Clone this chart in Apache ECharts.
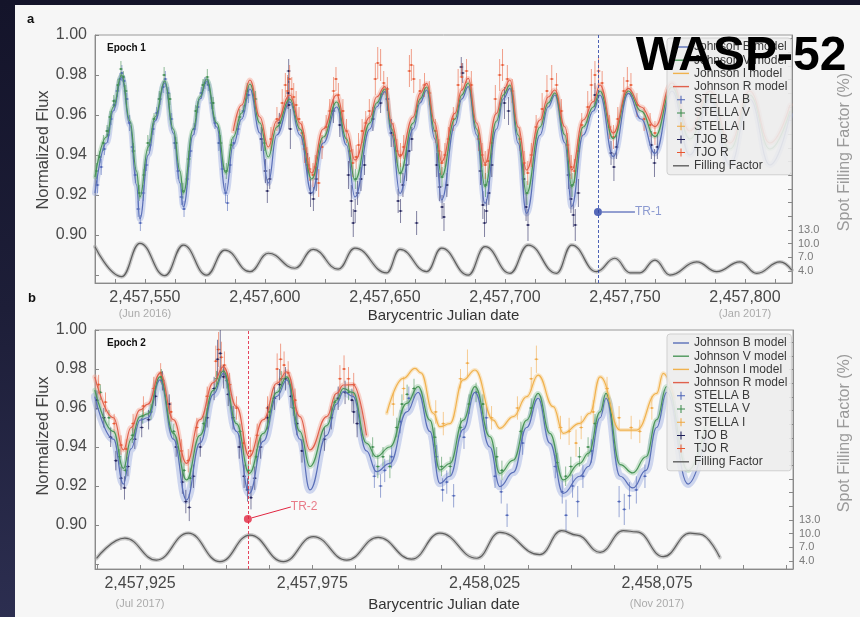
<!DOCTYPE html>
<html><head><meta charset="utf-8">
<script src="https://cdn.jsdelivr.net/npm/echarts@6/dist/echarts.min.js"></script>
<style>
html,body{margin:0;padding:0;width:860px;height:617px;overflow:hidden;background:linear-gradient(to bottom,#14142a 0%,#1d1e38 50%,#2c2e50 100%);}
#paper{position:absolute;left:15px;top:5px;width:845px;height:612px;background:#f6f6f6;}
#chart{position:absolute;left:0;top:0;width:860px;height:617px;}
</style></head>
<body><div id="paper"></div><div id="chart"></div>
<script>
// ---------------- DATA ----------------
// Panel a (Epoch 1) x-axis labels / ticks
const labelsA = [2457550, 2457600, 2457650, 2457700, 2457750, 2457800];
const noteTicksA = [2457550, 2457800];
const noteTextsA = ['(Jun 2016)', '(Jan 2017)'];
const minorTicksA = [2457537.5,2457550,2457562.5,2457575,2457587.5,2457600,2457612.5,2457625,2457637.5,2457650,2457662.5,2457675,2457687.5,2457700,2457712.5,2457725,2457737.5,2457750,2457762.5,2457775,2457787.5,2457800,2457812.5];
// Panel b (Epoch 2)
const labelsB = [2457925, 2457975, 2458025, 2458075];
const noteTicksB = [2457925, 2458075];
const noteTextsB = ['(Jul 2017)', '(Nov 2017)'];
const minorTicksB = [2457912.5,2457925,2457937.5,2457950,2457962.5,2457975,2457987.5,2458000,2458012.5,2458025,2458037.5,2458050,2458062.5,2458075,2458087.5,2458100,2458112.5];
const fluxLabels = [0.90, 0.92, 0.94, 0.96, 0.98, 1.00];
const fluxTicks = [0.88, 0.90, 0.92, 0.94, 0.96, 0.98, 1.00];
const ffLabels = [4, 7, 10, 13];
const ffTicks = [4,7,10,13,16,19,22,25,28,31,34,37,40,43,46,49,52,55];

// Panel a models
const daysA = [2457529.2,2457534.0,2457536.8,2457540.3,2457543.75,2457546.5,2457547.9,2457551.4,2457554.2,2457558.3,
2457561.8,2457564.6,2457566.0,2457570.1,2457572.9,2457575.7,2457579.9,2457583.75,2457586.8,2457590.3,
2457593.75,2457597.9,2457601.4,2457604.9,2457610.4,2457614.6,2457619.5,2457624.3,2457629.9,2457634.0,
2457637.5,2457643.75,2457646.5,2457650.0,2457652.8,2457656.25,2457661.8,2457664.6,2457667.4,2457670.8,
2457673.6,2457679.2,2457682.0,2457684.7,2457688.2,2457691.7,2457696.5,2457699.3,2457702.1,2457705.5,
2457709.0,2457714.6,2457718.0,2457720.8,2457725.0,2457727.8,2457732.6,2457736.8,2457739.6,2457745.1,
2457751.4,2457756.7,2457762.5,2457769.6,2457777.0,2457785.4,2457793.75,2457802.0,2457810.4,2457818.75];
const bModelA = [0.921,0.946,0.962,0.979,0.955,0.925,0.908,0.940,0.957,0.976,
0.951,0.926,0.914,0.950,0.968,0.977,0.954,0.921,0.945,0.958,
0.973,0.951,0.926,0.950,0.9665,0.950,0.921,0.946,0.964,0.945,
0.919,0.953,0.964,0.9717,0.950,0.9208,0.953,0.966,0.9725,0.948,
0.9175,0.955,0.968,0.9742,0.950,0.9158,0.953,0.968,0.9733,0.946,
0.9108,0.950,0.964,0.970,0.946,0.9142,0.950,0.962,0.970,0.9392,
0.9708,0.958,0.9408,0.972,0.940,0.968,0.935,0.968,0.935,0.960];
const vModelA = [0.929,0.949,0.964,0.980,0.957,0.932,0.919,0.944,0.959,0.977,
0.953,0.932,0.921,0.953,0.969,0.978,0.956,0.931,0.949,0.961,
0.9755,0.956,0.939,0.954,0.968,0.953,0.928,0.949,0.9665,0.948,
0.9275,0.956,0.966,0.973,0.953,0.9308,0.956,0.968,0.974,0.952,
0.9292,0.958,0.970,0.976,0.953,0.9242,0.957,0.970,0.975,0.950,
0.9208,0.954,0.966,0.971,0.950,0.9242,0.954,0.964,0.972,0.9483,
0.972,0.962,0.9492,0.974,0.948,0.970,0.943,0.970,0.943,0.962];
const rModelA = [null,null,null,null,null,null,null,null,null,null,
null,null,null,null,null,null,null,null,0.952,0.965,
0.9775,0.959,0.944,0.957,0.970,0.956,0.931,0.953,0.970,0.952,
0.9375,0.959,0.969,0.9742,0.956,0.9392,0.959,0.9708,0.9758,0.956,
0.9367,0.9608,0.9725,0.9783,0.956,0.9358,0.9608,0.9725,0.9775,0.954,
0.9325,0.9575,0.969,0.9725,0.954,0.9325,0.9575,0.9667,0.975,0.951,
0.9733,0.964,0.9542,0.976,0.952,0.972,0.946,0.972,0.946,0.965];
const ffDaysA = [2457529.2,2457540.3,2457547.9,2457558.3,2457566.0,2457575.7,2457583.3,2457593.75,2457601.4,2457612.5,2457620.1,2457630.5,2457637.5,2457650.7,2457656.25,2457667.4,2457673.6,2457684.7,2457691.7,2457702.1,2457709.7,2457721.5,2457727.8,2457738.2,2457745.8,2457752.1,2457756.25,2457762.5,2457768.75,2457779.9,2457788.2,2457797.9,2457804.9,2457814.6,2457819.5];
const ffValsA = [9.33,2.75,10.08,2.97,9.7,3.1,8.6,3.85,7.9,4.6,8.75,4.4,9.0,3.6,8.75,3.85,9.0,3.1,9.33,3.5,9.7,3.5,9.7,3.85,6.8,3.6,3.6,6.4,3.1,6.0,3.85,6.0,3.5,6.0,4.2];

// Panel a observations [day, flux, error]
const stellaBA = [[2457530.2,0.925,0.004],[2457531.8,0.934,0.004],[2457533.1,0.943,0.003],[2457534.6,0.950,0.004],[2457535.9,0.958,0.003],[2457537.2,0.965,0.003],[2457538.5,0.972,0.003],[2457539.6,0.978,0.003],[2457540.4,0.981,0.004],[2457541.3,0.977,0.003],[2457542.4,0.968,0.003],[2457543.6,0.956,0.004],[2457544.8,0.944,0.003],[2457546.0,0.930,0.004],[2457547.2,0.913,0.004],[2457548.1,0.906,0.004],[2457549.3,0.921,0.004],[2457550.6,0.935,0.003],[2457552.0,0.945,0.003],[2457553.4,0.953,0.003],[2457554.9,0.961,0.003],[2457556.3,0.968,0.003],[2457557.6,0.974,0.003],[2457558.5,0.978,0.004],[2457559.7,0.971,0.003],[2457561.0,0.958,0.003],[2457562.4,0.946,0.003],[2457563.8,0.932,0.004],[2457565.2,0.919,0.004],[2457566.3,0.913,0.004],[2457567.6,0.928,0.003],[2457569.0,0.942,0.003],[2457570.5,0.953,0.003],[2457572.0,0.964,0.003],[2457573.5,0.971,0.003],[2457575.0,0.976,0.003],[2457576.4,0.975,0.003],[2457577.8,0.966,0.003],[2457579.2,0.956,0.003],[2457580.8,0.946,0.004],[2457582.3,0.933,0.004],[2457583.6,0.921,0.005],[2457584.4,0.916,0.004],[2457585.5,0.935,0.004],[2457587.0,0.946,0.003],[2457588.8,0.953,0.003],[2457591.0,0.962,0.003],[2457593.2,0.970,0.004]];
const stellaVA = [[2457529.8,0.932,0.004],[2457531.2,0.939,0.003],[2457532.7,0.946,0.004],[2457534.2,0.952,0.003],[2457535.5,0.959,0.003],[2457537.0,0.967,0.003],[2457538.8,0.975,0.003],[2457540.0,0.983,0.004],[2457541.0,0.979,0.003],[2457542.0,0.972,0.003],[2457545.2,0.942,0.004],[2457547.6,0.921,0.004],[2457549.6,0.930,0.003],[2457551.2,0.946,0.004],[2457553.8,0.958,0.003],[2457556.0,0.968,0.004],[2457558.0,0.980,0.004],[2457560.4,0.968,0.003],[2457562.9,0.946,0.003],[2457565.8,0.922,0.004],[2457568.3,0.938,0.004],[2457571.2,0.962,0.003],[2457574.2,0.975,0.003],[2457576.0,0.979,0.004],[2457578.4,0.966,0.003],[2457581.5,0.946,0.004],[2457583.9,0.932,0.004],[2457586.0,0.945,0.003],[2457589.5,0.959,0.004],[2457592.6,0.972,0.004],[2457596.0,0.968,0.004],[2457599.8,0.946,0.004],[2457637.8,0.928,0.005],[2457656.5,0.931,0.005],[2457673.8,0.929,0.005],[2457691.9,0.925,0.006],[2457709.2,0.921,0.006],[2457728.0,0.925,0.006]];
const tjoBA = [[2457598.5,0.948,0.006],[2457600.2,0.932,0.006],[2457601.0,0.922,0.006],[2457602.0,0.928,0.005],[2457606.0,0.956,0.005],[2457609.6,0.971,0.008],[2457609.9,0.982,0.006],[2457610.0,0.965,0.012],[2457610.6,0.953,0.010],[2457617.8,0.935,0.006],[2457619.0,0.921,0.007],[2457620.2,0.918,0.006],[2457621.4,0.928,0.006],[2457628.5,0.962,0.006],[2457631.2,0.955,0.006],[2457634.8,0.930,0.007],[2457636.0,0.917,0.008],[2457636.8,0.906,0.007],[2457637.6,0.912,0.006],[2457638.6,0.921,0.006],[2457640.0,0.928,0.006],[2457641.5,0.935,0.005],[2457645.0,0.958,0.006],[2457648.2,0.966,0.005],[2457651.0,0.968,0.006],[2457652.6,0.951,0.007],[2457655.5,0.917,0.006],[2457656.5,0.912,0.006],[2457657.5,0.925,0.006],[2457659.0,0.935,0.008],[2457660.0,0.942,0.007],[2457661.2,0.948,0.006],[2457663.2,0.906,0.006],[2457671.6,0.935,0.006],[2457672.8,0.924,0.007],[2457673.8,0.914,0.006],[2457674.6,0.909,0.007],[2457675.8,0.925,0.006],[2457681.8,0.984,0.005],[2457682.4,0.981,0.005],[2457689.8,0.932,0.007],[2457690.8,0.915,0.007],[2457691.5,0.906,0.007],[2457692.3,0.912,0.006],[2457693.3,0.921,0.006],[2457694.5,0.935,0.006],[2457699.8,0.966,0.008],[2457701.5,0.962,0.007],[2457707.8,0.928,0.008],[2457708.8,0.914,0.007],[2457709.6,0.905,0.008],[2457726.5,0.930,0.007],[2457727.5,0.918,0.007],[2457728.5,0.910,0.006],[2457729.3,0.905,0.008],[2457730.6,0.921,0.007],[2457737.5,0.970,0.006],[2457744.2,0.941,0.006],[2457745.4,0.934,0.007],[2457746.5,0.944,0.006],[2457761.0,0.945,0.007],[2457762.3,0.936,0.007],[2457763.5,0.944,0.006]];
const tjoRA = [[2457602.5,0.948,0.006],[2457605.0,0.958,0.006],[2457607.2,0.966,0.007],[2457608.5,0.975,0.006],[2457609.4,0.972,0.008],[2457610.3,0.978,0.007],[2457611.2,0.973,0.006],[2457612.0,0.969,0.007],[2457613.0,0.965,0.007],[2457614.2,0.958,0.006],[2457615.5,0.951,0.006],[2457616.5,0.943,0.007],[2457617.5,0.938,0.006],[2457618.6,0.933,0.006],[2457620.0,0.930,0.006],[2457621.0,0.934,0.006],[2457622.4,0.926,0.007],[2457623.8,0.944,0.006],[2457625.5,0.954,0.006],[2457627.0,0.962,0.006],[2457628.6,0.972,0.007],[2457629.6,0.978,0.006],[2457630.6,0.970,0.006],[2457632.5,0.962,0.006],[2457634.0,0.952,0.006],[2457635.3,0.942,0.006],[2457636.6,0.936,0.007],[2457638.0,0.939,0.006],[2457639.0,0.945,0.006],[2457640.5,0.952,0.006],[2457642.0,0.956,0.006],[2457643.5,0.962,0.006],[2457646.0,0.978,0.008],[2457647.0,0.986,0.008],[2457648.2,0.985,0.008],[2457649.5,0.976,0.006],[2457651.0,0.973,0.006],[2457653.5,0.950,0.006],[2457655.0,0.942,0.006],[2457656.5,0.940,0.006],[2457657.8,0.944,0.006],[2457660.2,0.982,0.008],[2457661.0,0.985,0.008],[2457662.0,0.978,0.007],[2457664.6,0.972,0.006],[2457666.5,0.975,0.006],[2457668.5,0.971,0.006],[2457671.0,0.952,0.006],[2457672.5,0.942,0.006],[2457673.7,0.936,0.006],[2457675.0,0.940,0.006],[2457676.5,0.948,0.006],[2457678.5,0.958,0.006],[2457680.5,0.975,0.008],[2457682.0,0.979,0.007],[2457684.0,0.982,0.006],[2457686.0,0.975,0.007],[2457689.0,0.948,0.006],[2457690.5,0.940,0.006],[2457691.8,0.935,0.007],[2457693.0,0.937,0.006],[2457694.5,0.946,0.006],[2457696.0,0.968,0.007],[2457697.8,0.980,0.008],[2457699.0,0.985,0.008],[2457701.0,0.978,0.007],[2457703.0,0.972,0.006],[2457706.2,0.948,0.006],[2457708.0,0.936,0.006],[2457709.5,0.931,0.006],[2457711.0,0.940,0.006],[2457713.0,0.954,0.006],[2457715.5,0.963,0.008],[2457717.5,0.972,0.008],[2457719.5,0.978,0.007],[2457721.5,0.975,0.006],[2457723.5,0.962,0.006],[2457726.0,0.945,0.006],[2457727.6,0.934,0.006],[2457729.0,0.932,0.006],[2457730.5,0.942,0.006],[2457732.0,0.955,0.006],[2457734.5,0.964,0.008],[2457736.0,0.975,0.008],[2457737.5,0.980,0.007],[2457739.0,0.982,0.007],[2457740.5,0.976,0.006],[2457743.5,0.954,0.006],[2457745.2,0.949,0.006],[2457747.0,0.958,0.006],[2457749.5,0.972,0.007],[2457751.0,0.977,0.007],[2457752.5,0.975,0.006],[2457755.0,0.965,0.006],[2457758.0,0.958,0.006],[2457760.5,0.955,0.006],[2457762.5,0.951,0.006]];

// Panel b models
const daysB = [2457911.9,2457917.3,2457920.2,2457922.4,2457925.0,2457927.3,2457930.8,2457934.7,2457938.5,2457942.4,
2457946.3,2457949.2,2457953.0,2457956.7,2457960.8,2457964.7,2457967.6,2457971.4,2457974.3,2457979.2,
2457982.0,2457984.0,2457986.8,2457990.7,2457993.6,2457997.5,2458002.4,2458005.7,2458009.1,2458012.0,
2458014.9,2458018.8,2458022.2,2458026.5,2458029.4,2458033.3,2458037.2,2458040.5,2458043.9,2458047.8,
2458052.6,2458055.1,2458058.5,2458060.2,2458064.3,2458068.0,2458071.8,2458074.9,2458077.8,2458084.0,2458089.0];
const rModelB = [0.976,0.955,0.9385,0.950,0.959,0.962,0.9778,0.954,0.9316,0.954,
0.973,0.9812,0.9607,0.935,0.954,0.9727,0.9786,0.9556,0.9385,0.9556,
0.9675,0.9718,0.972,0.946,null,null,null,null,null,null,
null,null,null,null,null,null,null,null,null,null,
null,null,null,null,null,null,null,null,null,null,null];
const vModelB = [0.9692,0.948,0.929,0.944,0.9556,0.957,0.976,0.947,0.9231,0.946,
0.969,0.979,0.952,0.9265,0.947,0.968,0.976,0.948,0.930,0.951,
0.964,0.970,0.968,0.942,0.935,0.940,0.9624,0.971,0.9538,0.9282,
0.9316,0.9538,0.971,0.9453,0.9265,0.9333,0.9538,0.9675,0.947,0.9231,
0.9316,0.9368,0.958,0.9675,0.931,0.9267,0.935,0.954,0.971,0.928,0.950];
const bModelB = [0.9658,0.944,0.921,0.939,0.9538,0.955,0.9744,0.944,0.9128,0.942,
0.967,0.9778,0.948,0.9162,0.943,0.966,0.9744,0.944,0.918,0.946,
0.962,0.9684,0.966,0.938,0.9274,0.9316,0.958,0.968,0.948,0.9214,
0.925,0.949,0.968,0.940,0.9197,0.927,0.950,0.965,0.942,0.9162,
0.925,0.930,0.955,0.965,0.925,0.919,0.928,0.950,0.968,0.921,0.945];
const iDaysB = [2457996.6,2458001.4,2458004.8,2458006.5,2458010.1,2458012.0,2458014.9,2458018.8,2458022.2,2458027.5,2458029.4,2458033.3,2458037.2,2458040.5,2458044.9,2458047.8,2458052.6,2458055.5,2458058.5,2458064.3,2458069.1,2458074.9,2458076.8,2458080.0];
const iModelB = [0.9573,0.9752,0.9803,0.978,0.9573,0.9504,0.952,0.9744,0.9795,0.9538,0.9496,0.9556,0.9658,0.9769,0.9607,0.947,0.9521,0.9573,0.976,0.9487,0.9487,0.9675,0.9778,0.965];
const ffDaysB = [2457912.4,2457920.6,2457929.8,2457939.0,2457948.2,2457956.9,2457966.6,2457975.3,2457985.0,2457994.1,2458003.8,2458012.0,2458022.7,2458029.4,2458041.0,2458047.3,2458051.7,2458058.5,2458065.2,2458069.1,2458076.8,2458084.6,2458087.4,2458093.2];
const ffValsB = [4.6,9.0,4.2,10.1,3.85,9.7,3.85,9.33,4.2,9.2,4.4,10.1,4.6,10.3,5.4,10.65,9.7,5.9,10.65,10.4,4.95,10.1,9.9,4.8];

// Panel b observations [day, flux, error]
const tjoRB = [[2457913.0,0.972,0.005],[2457915.0,0.963,0.005],[2457917.5,0.952,0.005],[2457919.5,0.941,0.005],[2457921.0,0.939,0.005],[2457923.0,0.952,0.005],[2457926.0,0.961,0.005],[2457929.0,0.970,0.006],[2457931.0,0.978,0.005],[2457934.0,0.958,0.005],[2457937.0,0.938,0.006],[2457939.0,0.933,0.006],[2457941.5,0.950,0.005],[2457944.5,0.966,0.005],[2457947.0,0.984,0.008],[2457947.8,0.990,0.009],[2457948.6,0.986,0.008],[2457949.5,0.982,0.007],[2457951.0,0.972,0.006],[2457953.0,0.960,0.006],[2457955.0,0.942,0.006],[2457957.0,0.938,0.007],[2457959.0,0.946,0.006],[2457962.0,0.960,0.006],[2457964.8,0.980,0.008],[2457965.8,0.985,0.008],[2457966.8,0.982,0.007],[2457968.0,0.978,0.006],[2457970.0,0.964,0.006],[2457983.0,0.975,0.007],[2457984.2,0.980,0.007],[2457985.5,0.975,0.006],[2457987.0,0.972,0.006]];
const tjoBB = [[2457912.5,0.964,0.005],[2457914.5,0.955,0.005],[2457916.5,0.945,0.005],[2457918.0,0.933,0.005],[2457919.5,0.924,0.006],[2457920.5,0.919,0.006],[2457921.5,0.930,0.005],[2457923.5,0.944,0.005],[2457925.5,0.950,0.005],[2457927.5,0.954,0.005],[2457929.5,0.966,0.005],[2457931.5,0.974,0.005],[2457933.5,0.962,0.005],[2457935.5,0.940,0.005],[2457937.3,0.922,0.006],[2457938.3,0.912,0.006],[2457939.3,0.909,0.007],[2457940.5,0.925,0.006],[2457942.5,0.940,0.005],[2457944.5,0.955,0.005],[2457946.5,0.970,0.006],[2457947.5,0.985,0.010],[2457948.3,0.988,0.012],[2457949.2,0.976,0.006],[2457950.6,0.967,0.006],[2457952.0,0.955,0.006],[2457953.8,0.940,0.006],[2457955.2,0.925,0.006],[2457956.2,0.918,0.006],[2457957.2,0.914,0.006],[2457958.3,0.924,0.006],[2457960.0,0.940,0.006],[2457962.0,0.955,0.006],[2457964.0,0.965,0.006],[2457965.5,0.972,0.008],[2457967.2,0.975,0.006],[2457968.8,0.966,0.006],[2457970.5,0.952,0.006],[2457972.0,0.938,0.006],[2457978.5,0.944,0.006],[2457980.5,0.955,0.006],[2457982.5,0.965,0.006],[2457984.5,0.968,0.006],[2457986.5,0.964,0.006],[2457987.0,0.958,0.006],[2457988.0,0.952,0.007]];
const stellaVB = [[2457913.5,0.968,0.004],[2457916.0,0.955,0.004],[2457919.0,0.935,0.004],[2457920.8,0.928,0.004],[2457922.8,0.946,0.004],[2457925.8,0.956,0.004],[2457928.2,0.958,0.004],[2457931.2,0.976,0.004],[2457934.8,0.948,0.004],[2457937.8,0.928,0.004],[2457939.6,0.924,0.005],[2457943.5,0.952,0.004],[2457947.2,0.975,0.004],[2457950.2,0.974,0.004],[2457954.0,0.948,0.004],[2457956.5,0.928,0.005],[2457958.8,0.935,0.004],[2457962.5,0.958,0.004],[2457966.0,0.975,0.004],[2457969.5,0.960,0.004],[2457981.5,0.963,0.004],[2457985.5,0.968,0.004],[2457992.5,0.940,0.005],[2457994.0,0.930,0.006],[2457995.5,0.935,0.005],[2457997.5,0.930,0.006],[2457999.5,0.950,0.005],[2458001.0,0.962,0.005],[2458002.5,0.967,0.005],[2458004.5,0.970,0.005],[2458010.5,0.945,0.005],[2458012.5,0.930,0.005],[2458015.0,0.930,0.005],[2458018.0,0.950,0.005],[2458020.5,0.962,0.005],[2458022.5,0.968,0.005],[2458024.5,0.962,0.005],[2458028.5,0.935,0.005],[2458030.0,0.928,0.005],[2458035.5,0.948,0.005],[2458038.5,0.960,0.005],[2458046.0,0.932,0.005],[2458048.5,0.925,0.005],[2458050.0,0.930,0.005],[2458052.5,0.935,0.005],[2458055.0,0.940,0.005],[2458057.0,0.952,0.005]];
const stellaBB = [[2457993.0,0.925,0.006],[2457994.8,0.920,0.006],[2457996.0,0.928,0.006],[2457998.0,0.935,0.006],[2458000.5,0.953,0.006],[2458003.0,0.965,0.006],[2458011.0,0.935,0.006],[2458012.8,0.918,0.006],[2458014.0,0.922,0.006],[2458016.0,0.915,0.006],[2458019.0,0.945,0.006],[2458025.5,0.955,0.006],[2458028.0,0.925,0.006],[2458029.8,0.917,0.006],[2458031.5,0.905,0.006],[2458036.0,0.942,0.006],[2458045.5,0.930,0.006],[2458047.5,0.917,0.006],[2458048.6,0.905,0.008],[2458050.5,0.920,0.006],[2458052.0,0.912,0.008],[2458053.5,0.925,0.006],[2458056.0,0.938,0.006],[2458064.0,0.912,0.008],[2458065.5,0.908,0.008],[2458067.0,0.915,0.007],[2458069.0,0.918,0.007],[2458071.5,0.925,0.006]];
const stellaIB = [[2457998.5,0.962,0.006],[2458001.5,0.970,0.006],[2458010.8,0.958,0.006],[2458013.0,0.952,0.006],[2458018.0,0.975,0.005],[2458020.0,0.983,0.007],[2458027.0,0.955,0.006],[2458034.5,0.960,0.006],[2458038.5,0.975,0.006],[2458040.0,0.985,0.007],[2458047.0,0.950,0.006],[2458049.5,0.948,0.007],[2458051.5,0.942,0.007],[2458053.0,0.950,0.006],[2458056.5,0.958,0.006],[2458060.5,0.970,0.006],[2458064.0,0.955,0.006],[2458067.5,0.950,0.006],[2458070.0,0.948,0.006],[2458073.5,0.960,0.006]];

// Transit markers
const tr1 = [2457738.75, 0.9115];
const tr2 = [2457956.3, 0.9031];

// ---------------- CHART ----------------
const FONT = '"Liberation Sans", Arial, sans-serif';
const PLUS = 'path://M3.5,0h1v3.5h3.5v1h-3.5v3.5h-1v-3.5h-3.5v-1h3.5z';
const LINE = 'path://M0,0h16v1.4h-16z';
const C = {
  B: '#5a6fb8', Bband: '#8fa3de',
  V: '#4b9659', Vband: '#8cc497',
  R: '#e0614d', Rband: '#f4a593',
  I: '#f0b24e', Iband: '#f7cd8a',
  FF: '#5e5e5e', FFband: '#a0a0a0',
  sB: '#4a62b6', sV: '#3a8a4a', sI: '#f0a63e', tB: '#1e1e58', tR: '#e8552f'
};
const zip = (xs, ys) => xs.map((x, i) => ys[i] == null ? null : [x, ys[i]]).filter(Boolean);
const fmtJD = v => String(Math.round(v)).replace(/\B(?=(\d{3})+(?!\d))/g, ',');

function model(name, pairs, color, band, bw, bo, xi, yi) {
  return [
    {type: 'line', name, xAxisIndex: xi, yAxisIndex: yi, data: pairs, symbol: 'none', smooth: 0.45, smoothMonotone: 'x',
     z: 4, silent: true, lineStyle: {color, width: 1.2}, itemStyle: {color}},
    {type: 'line', name, xAxisIndex: xi, yAxisIndex: yi, data: pairs, symbol: 'none', smooth: 0.45, smoothMonotone: 'x',
     z: 1, silent: true, lineStyle: {color: band, width: bw, opacity: bo, cap: 'round', join: 'round'}, itemStyle: {color}}
  ];
}
function errs(name, data, color, xi, yi) {
  return {
    type: 'custom', name, xAxisIndex: xi, yAxisIndex: yi, data, z: 2, silent: true, clip: true,
    itemStyle: {color}, encode: {x: 0, y: 1},
    renderItem: (params, api) => {
      const x = api.value(0), y = api.value(1), e = api.value(2);
      const p = api.coord([x, y]), t = api.coord([x, y + e]), b = api.coord([x, y - e]);
      return {type: 'group', children: [
        {type: 'line', shape: {x1: p[0], y1: t[1], x2: p[0], y2: b[1]}, style: {stroke: color, lineWidth: 0.8, opacity: 0.7}},
        {type: 'line', shape: {x1: p[0] - 2, y1: p[1], x2: p[0] + 2, y2: p[1]}, style: {stroke: color, lineWidth: 0.8, opacity: 0.75}},
        {type: 'circle', shape: {cx: p[0], cy: p[1], r: 1.1}, style: {fill: color, opacity: 0.9}}
      ]};
    }
  };
}
function xAxisDef(gi, min, max, labels, minor, noteTicks, noteTexts, noteLH, gap) {
  return {
    gridIndex: gi, type: 'value', min, max,
    name: 'Barycentric Julian date', nameLocation: 'middle', nameGap: gap, nameMoveOverlap: false,
    nameTextStyle: {fontSize: 15, color: '#333', fontFamily: FONT},
    axisLine: {show: true, lineStyle: {color: '#8a8a8a', width: 1}},
    axisTick: {show: true, inside: true, length: 4, customValues: minor, lineStyle: {color: '#888'}},
    splitLine: {show: false},
    axisLabel: {
      customValues: labels, margin: 6,
      formatter: v => {
        const k = noteTicks.indexOf(v);
        return k >= 0 ? '{v|' + fmtJD(v) + '}\n{n|' + noteTexts[k] + '}' : '{v|' + fmtJD(v) + '}';
      },
      rich: {v: {fontSize: 16, color: '#474747', lineHeight: 18, fontFamily: FONT},
             n: {fontSize: 11, color: '#ababab', lineHeight: noteLH, fontFamily: FONT}}
    }
  };
}
function fluxAxis(gi, min) {
  return {
    gridIndex: gi, type: 'value', min, max: 1.0, position: 'left',
    axisLine: {show: true, lineStyle: {color: '#8a8a8a'}},
    axisTick: {show: true, inside: true, length: 4, customValues: fluxTicks, lineStyle: {color: '#888'}},
    splitLine: {show: false},
    axisLabel: {customValues: fluxLabels, formatter: v => v.toFixed(2), fontSize: 16, color: '#4a4a4a', margin: 8, fontFamily: FONT}
  };
}
function ffAxis(gi, min, max) {
  return {
    gridIndex: gi, type: 'value', min, max, position: 'right',
    axisLine: {show: true, lineStyle: {color: '#8a8a8a'}},
    axisTick: {show: true, inside: true, length: 4, customValues: ffTicks.filter(v => v < max), lineStyle: {color: '#888'}},
    splitLine: {show: false},
    axisLabel: {customValues: ffLabels, formatter: v => v.toFixed(1), fontSize: 11, color: '#7a7a7a', margin: 6, fontFamily: FONT}
  };
}
const legendData = [
  {name: 'Johnson B model', icon: LINE}, {name: 'Johnson V model', icon: LINE},
  {name: 'Johnson I model', icon: LINE}, {name: 'Johnson R model', icon: LINE},
  {name: 'STELLA B', icon: PLUS}, {name: 'STELLA V', icon: PLUS}, {name: 'STELLA I', icon: PLUS},
  {name: 'TJO B', icon: PLUS}, {name: 'TJO R', icon: PLUS}, {name: 'Filling Factor', icon: LINE}
];
function legendDef(top) {
  return {
    data: legendData, orient: 'vertical', left: 667, top, selectedMode: false,
    itemWidth: 16, itemHeight: 8, itemGap: 1.2, padding: [3, 4, 3, 6],
    backgroundColor: 'rgba(236,236,236,0.9)', borderColor: '#cfcfcf', borderWidth: 1, borderRadius: 3,
    textStyle: {fontSize: 12, color: '#3a3a3a', fontFamily: FONT, lineHeight: 10.5}, z: 20
  };
}
function trSeries(name, pt, color, xi, yi, dx, dy, lblColor) {
  return {
    type: 'scatter', name, xAxisIndex: xi, yAxisIndex: yi, data: [pt], symbolSize: 8, z: 6, silent: true,
    itemStyle: {color},
    label: {show: true, formatter: name, position: 'right', color: lblColor, fontSize: 12, fontFamily: FONT},
    labelLayout: {dx, dy},
    labelLine: {show: true, lineStyle: {color, width: 1}},
    markLine: {symbol: 'none', silent: true, label: {show: false},
      lineStyle: {type: [3, 2], color, width: 1, opacity: 0.85}, data: [{xAxis: pt[0]}]}
  };
}

const series = [].concat(
  // panel a
  model('Johnson B model', zip(daysA, bModelA), C.B, C.Bband, 6, 0.4, 0, 0),
  model('Johnson V model', zip(daysA, vModelA), C.V, C.Vband, 4.5, 0.4, 0, 0),
  model('Johnson R model', zip(daysA, rModelA), C.R, C.Rband, 5, 0.45, 0, 0),
  model('Filling Factor', zip(ffDaysA, ffValsA), C.FF, C.FFband, 4, 0.55, 0, 1),
  [errs('STELLA B', stellaBA, C.sB, 0, 0), errs('STELLA V', stellaVA, C.sV, 0, 0),
   errs('TJO B', tjoBA, C.tB, 0, 0), errs('TJO R', tjoRA, C.tR, 0, 0)],
  [trSeries('TR-1', tr1, '#2d45a8', 0, 0, 28, 0, '#7182c6')],
  // panel b
  model('Johnson B model', zip(daysB, bModelB), C.B, C.Bband, 8, 0.4, 1, 2),
  model('Johnson V model', zip(daysB, vModelB), C.V, C.Vband, 5, 0.4, 1, 2),
  model('Johnson R model', zip(daysB, rModelB), C.R, C.Rband, 5, 0.45, 1, 2),
  model('Johnson I model', zip(iDaysB, iModelB), C.I, C.Iband, 4, 0.45, 1, 2),
  model('Filling Factor', zip(ffDaysB, ffValsB), C.FF, C.FFband, 4, 0.55, 1, 3),
  [errs('TJO R', tjoRB, C.tR, 1, 2), errs('TJO B', tjoBB, C.tB, 1, 2),
   errs('STELLA V', stellaVB, C.sV, 1, 2), errs('STELLA B', stellaBB, C.sB, 1, 2),
   errs('STELLA I', stellaIB, C.sI, 1, 2)],
  [trSeries('TR-2', tr2, '#e0243f', 1, 2, 34, -12, '#e45a6a')]
);

const txt = (text, x, y, font, fill) => ({
  type: 'text', x, y, z: 50,
  style: {text, font, fill, align: 'left', verticalAlign: 'middle', textAlign: 'left', textVerticalAlign: 'middle'}
});
const vtxt = (text, x, y, font, fill) => ({
  type: 'text', x, y, rotation: Math.PI / 2, z: 50,
  style: {text, font, fill, align: 'center', verticalAlign: 'middle', textAlign: 'center', textVerticalAlign: 'middle'}
});

const option = {
  animation: false,
  backgroundColor: 'transparent',
  textStyle: {fontFamily: FONT},
  grid: [
    {left: 95, top: 35, width: 697, height: 248, show: true, borderColor: '#9a9a9a', borderWidth: 1, backgroundColor: 'rgba(251,251,251,0.6)'},
    {left: 95, top: 330, width: 698, height: 239, show: true, borderColor: '#9a9a9a', borderWidth: 1, backgroundColor: 'rgba(251,251,251,0.6)'}
  ],
  xAxis: [
    xAxisDef(0, 2457529.2, 2457819.6, labelsA, minorTicksA, noteTicksA, noteTextsA, 14, 25),
    xAxisDef(1, 2457911.95, 2458114.45, labelsB, minorTicksB, noteTicksB, noteTextsB, 22, 28)
  ],
  yAxis: [fluxAxis(0, 0.876), ffAxis(0, 1.366, 55.8), fluxAxis(1, 0.87744), ffAxis(1, 2.244, 54.7)],
  legend: [legendDef(38), legendDef(334)],
  series,
  graphic: [
    txt('a', 27, 19, 'bold 13px ' + FONT, '#111'),
    txt('b', 28, 298, 'bold 13px ' + FONT, '#111'),
    txt('Epoch 1', 107, 48, 'bold 10px ' + FONT, '#111'),
    txt('Epoch 2', 107, 343, 'bold 10px ' + FONT, '#111'),
    vtxt('Normalized Flux', 43, 150, '16.5px ' + FONT, '#444'),
    vtxt('Normalized Flux', 43, 436, '16.5px ' + FONT, '#444'),
    vtxt('Spot Filling Factor (%)', 845, 152, '16px ' + FONT, '#9a9a9a'),
    vtxt('Spot Filling Factor (%)', 845, 433, '16px ' + FONT, '#9a9a9a'),
    {type: 'text', x: 741, y: 57, z: 100,
     style: {text: 'WASP-52', font: 'bold 48px ' + FONT, fill: '#000', align: 'center', verticalAlign: 'middle', textAlign: 'center', textVerticalAlign: 'middle'}}
  ]
};
const chart = echarts.init(document.getElementById('chart'), null, {renderer: 'canvas'});
chart.setOption(option);
</script>
</body></html>
